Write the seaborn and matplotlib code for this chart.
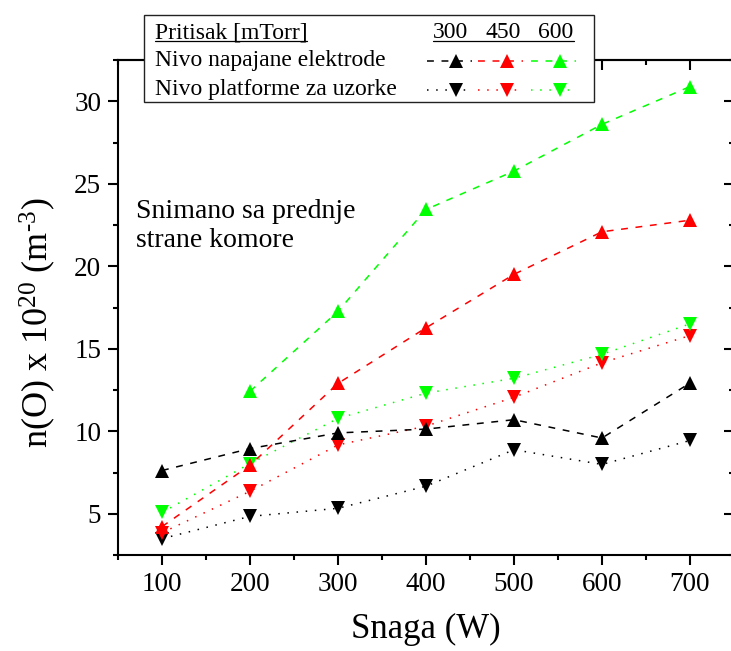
import numpy as np
import pandas as pd
import matplotlib
matplotlib.use("Agg")
import matplotlib.pyplot as plt
from matplotlib.lines import Line2D
from matplotlib.patches import Rectangle
import seaborn as sns

# ---------------- data ----------------
power = [100, 200, 300, 400, 500, 600, 700]
pressures = ["300", "450", "600"]
electrode_300 = [7.62, 8.95, 9.90, 10.13, 10.70, 9.59, 12.92]
electrode_450 = [4.22, 7.94, 12.90, 16.27, 19.51, 22.09, 22.79]
electrode_600 = [np.nan, 12.42, 17.27, 23.44, 25.77, 28.60, 30.89]
platform_300 = [3.49, 4.84, 5.33, 6.67, 8.88, 7.99, 9.44]
platform_450 = [3.85, 6.36, 9.17, 10.31, 12.06, 14.15, 15.80]
platform_600 = [5.08, 8.04, 10.78, 12.31, 13.21, 14.66, 16.51]

x_label = "Snaga (W)"
y_label = r"n(O) x 10$^{20}$ (m$^{\text{-3}}$)"
legend_title = "Pritisak [mTorr]"
row_electrode = "Nivo napajane elektrode"
row_platform = "Nivo platforme za uzorke"
note = "Snimano sa prednje\nstrane komore"

# ---------------- style ----------------
sns.set_style("ticks")
plt.rcParams["font.family"] = ["Liberation Serif", "DejaVu Serif"]
plt.rcParams["mathtext.fontset"] = "custom"
plt.rcParams["mathtext.rm"] = "Liberation Serif"
plt.rcParams["mathtext.it"] = "Liberation Serif:italic"
plt.rcParams["mathtext.bf"] = "Liberation Serif:bold"
plt.rcParams["text.color"] = "black"
plt.rcParams["axes.labelcolor"] = "black"
plt.rcParams["xtick.color"] = "black"
plt.rcParams["ytick.color"] = "black"

colors = {"300": "#000000", "450": "#ff0000", "600": "#00ff00"}
dash_ls = (0, (4.5, 5))
dot_ls = (0, (1, 5))
lw = 1.1
ms = 9.5

W, H = 731, 651
fig = plt.figure(figsize=(W / 100, H / 100), dpi=100)
ax = fig.add_axes([118 / W, 1 - 555 / H, (734 - 118) / W, (555 - 60) / H])

platform = {"300": platform_300, "450": platform_450, "600": platform_600}
electrode = {"300": electrode_300, "450": electrode_450, "600": electrode_600}

for p in pressures:
    df = pd.DataFrame({"x": power, "y": platform[p]}).dropna()
    sns.lineplot(data=df, x="x", y="y", ax=ax, color=colors[p], linestyle=dot_ls,
                 linewidth=lw, marker="v", markersize=ms, markeredgewidth=0,
                 markerfacecolor=colors[p], legend=False)
for p in pressures:
    df = pd.DataFrame({"x": power, "y": electrode[p]}).dropna()
    sns.lineplot(data=df, x="x", y="y", ax=ax, color=colors[p], linestyle=dash_ls,
                 linewidth=lw, marker="^", markersize=ms, markeredgewidth=0,
                 markerfacecolor=colors[p], legend=False)

ax.set_xlim(50, 750)
ax.set_ylim(2.5, 32.5)
ax.set_xticks(power)
ax.set_xticks(np.arange(50, 751, 50), minor=True)
ax.set_yticks([5, 10, 15, 20, 25, 30])
ax.set_yticks(np.arange(2.5, 32.6, 2.5), minor=True)

for side in ["left", "bottom", "top", "right"]:
    ax.spines[side].set_visible(True)
    ax.spines[side].set_linewidth(1.5)
    ax.spines[side].set_color("black")

ax.tick_params(axis="both", which="major", direction="out", length=7, width=1.5,
               labelsize=19.5, colors="black", pad=5)
ax.tick_params(axis="both", which="minor", direction="out", length=3.5, width=1.5)
ax.tick_params(axis="both", which="both", top=False, right=False)

# mirrored ticks pointing inward (top & right)
axt = ax.secondary_xaxis("top")
axt.set_xticks(power)
axt.set_xticks(np.arange(50, 751, 50), minor=True)
axt.tick_params(which="major", direction="in", length=7, width=1.5, labeltop=False)
axt.tick_params(which="minor", direction="in", length=3.5, width=1.5)
axt.set_xticklabels([])
axt.spines["top"].set_linewidth(1.5)
axr = ax.secondary_yaxis("right")
axr.set_yticks([5, 10, 15, 20, 25, 30])
axr.set_yticks(np.arange(2.5, 32.6, 2.5), minor=True)
axr.tick_params(which="major", direction="in", length=7, width=1.5, labelright=False)
axr.tick_params(which="minor", direction="in", length=3.5, width=1.5)
axr.set_yticklabels([])
axr.spines["right"].set_linewidth(1.5)

ax.set_xlabel(x_label, fontsize=25, labelpad=12, color="black")
ax.set_ylabel(y_label, fontsize=26, labelpad=8, color="black")
ax.yaxis.set_label_coords(-0.098, 0.47)

fig.text(136 / W, 1 - 247 / H, note, fontsize=20, ha="left", va="baseline",
         linespacing=1.2, color="black")

# ---------------- custom legend table ----------------
def fx(px):
    return px / W


def fy(py):
    return 1 - py / H


box = Rectangle((fx(143.5), fy(101.5)), fx(593.5) - fx(143.5), fy(15) - fy(101.5),
                transform=fig.transFigure, facecolor="white", edgecolor="#222222",
                linewidth=1.0, zorder=10)
fig.add_artist(box)

fig.text(fx(155), fy(38.5), legend_title, fontsize=17, ha="left", va="baseline",
         color="black", zorder=11)
fig.add_artist(Line2D([fx(155), fx(307)], [fy(41), fy(41)], transform=fig.transFigure,
                      color="black", linewidth=0.9, zorder=11))
col_centers = [450, 503.5, 556]
for p, c in zip(pressures, col_centers):
    fig.text(fx(c), fy(38.5), p, fontsize=17, ha="center", va="baseline",
             color="black", zorder=11)
fig.add_artist(Line2D([fx(433), fx(574)], [fy(41), fy(41)], transform=fig.transFigure,
                      color="black", linewidth=0.9, zorder=11))

fig.text(fx(155), fy(66), row_electrode, fontsize=17, ha="left", va="baseline",
         color="black", zorder=11)
fig.text(fx(155), fy(94.5), row_platform, fontsize=17, ha="left", va="baseline",
         color="black", zorder=11)

marker_x = [456, 507, 560]
for p, mx in zip(pressures, marker_x):
    for ry, ls, mk in [(61, dash_ls, "^"), (89.5, dot_ls, "v")]:
        fig.add_artist(Line2D([fx(mx - 29), fx(mx + 16)], [fy(ry), fy(ry)],
                              transform=fig.transFigure, color=colors[p],
                              linestyle=ls, linewidth=lw, zorder=11))
        fig.add_artist(Line2D([fx(mx)], [fy(ry)], transform=fig.transFigure,
                              color=colors[p], marker=mk, markersize=ms,
                              markeredgewidth=0, linestyle="none", zorder=12))

fig.savefig("out.png", dpi=100)
